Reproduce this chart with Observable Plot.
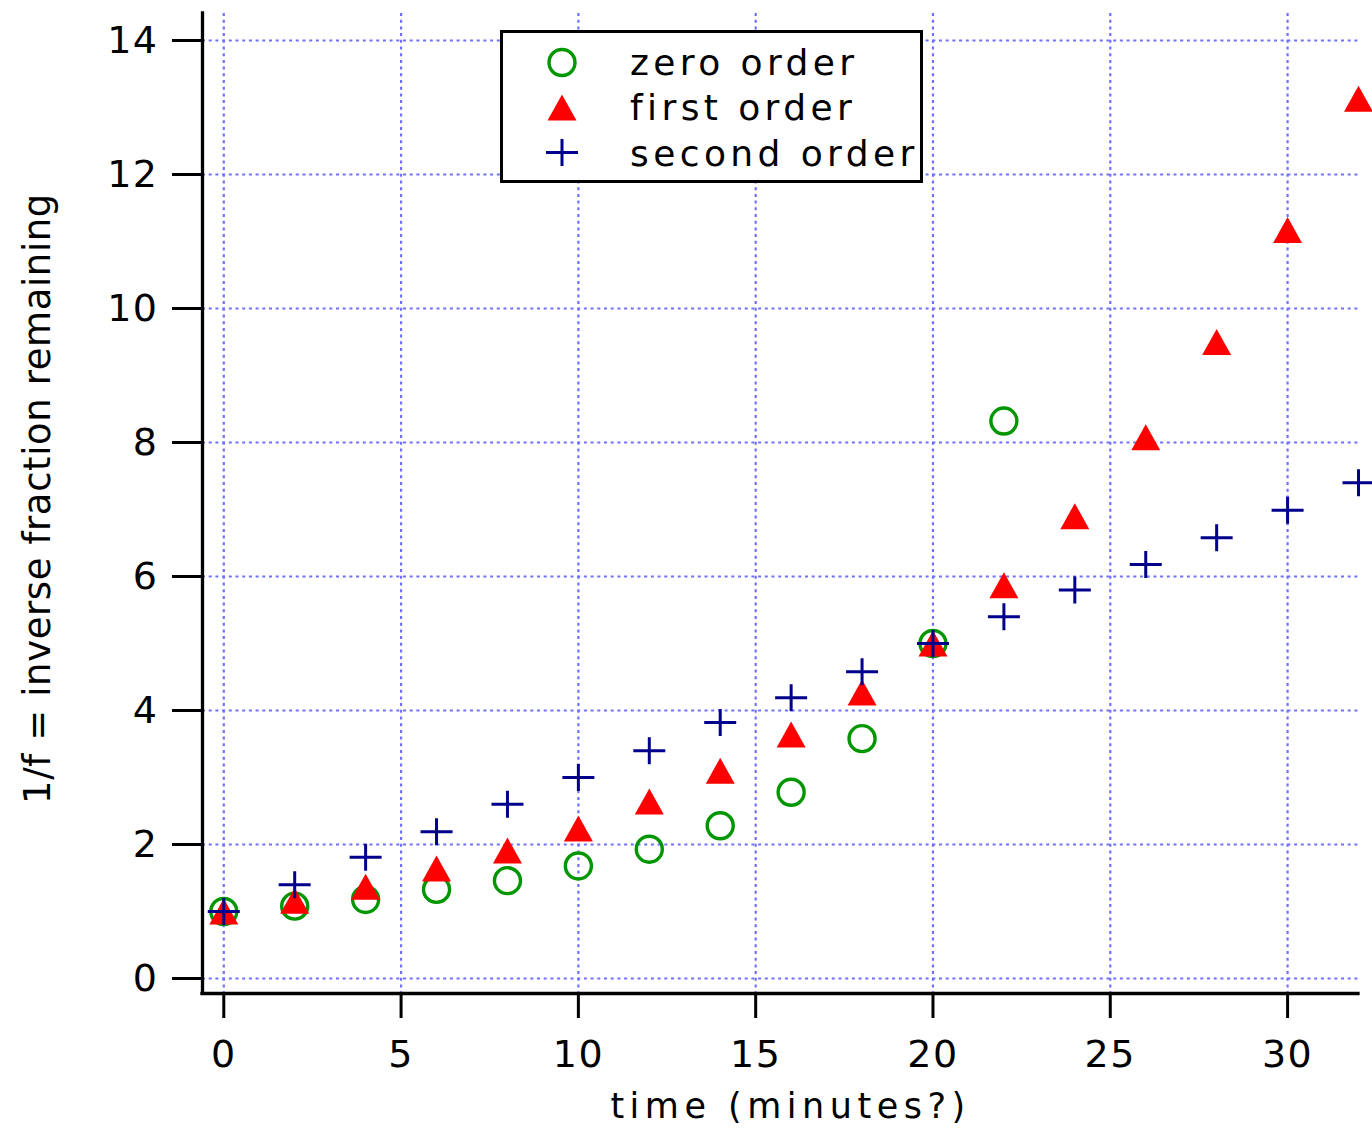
<!DOCTYPE html>
<html>
<head>
<meta charset="utf-8">
<script src="https://cdn.jsdelivr.net/npm/d3@7"></script>
<script src="https://cdn.jsdelivr.net/npm/@observablehq/plot@0.6"></script>
<style>
  body { margin: 0; background: #fff; }
  #wrap { position: relative; width: 1372px; height: 1128px; }
  #legend { position: absolute; left: 500px; top: 30px; width: 417px; height: 147px;
            border: 3px solid #000; background: #fff; }
  #legend svg { display: block; }
  [aria-label="x-axis tick label"], [aria-label="y-axis tick label"] { letter-spacing: 1.5px; }
</style>
</head>
<body>
<div id="wrap"><div id="legend"></div></div>
<script>
// ---- data ----
const times = [0, 2, 4, 6, 8, 10, 12, 14, 16, 18, 20, 22, 24, 26, 28, 30, 32];
const zeroOrder = [1.0, 1.08, 1.18, 1.33, 1.46, 1.68, 1.93, 2.28, 2.78, 3.58, 5.0, 8.32];
const firstOrder = [1.0, 1.16, 1.37, 1.64, 1.91, 2.24, 2.64, 3.1, 3.64, 4.27, 5.0, 5.87, 6.9, 8.08, 9.5, 11.17, 13.13];
const secondOrder = [1.0, 1.4, 1.81, 2.19, 2.6, 3.0, 3.4, 3.82, 4.19, 4.58, 5.0, 5.4, 5.8, 6.18, 6.58, 6.99, 7.4];
const seriesNames = ["zero order", "first order", "second order"];
const xTicks = [0, 5, 10, 15, 20, 25, 30];
const yTicks = [0, 2, 4, 6, 8, 10, 12, 14];
const xDomain = [-0.6, 32];
const yDomain = [-0.224, 14.403];
const xLabel = "time (minutes?)";
const yLabel = "1/f = inverse fraction remaining";

const toRows = (vals) => vals.map((v, i) => ({t: times[i], v}));
const zeroData = toRows(zeroOrder);
const firstData = toRows(firstOrder);
const secondData = toRows(secondOrder);

// ---- styles ----
const green = "#009600", red = "#ff0000", navy = "#00008c", gridBlue = "#7070ff";

const triangleSym = { draw(ctx) { ctx.moveTo(0, -13); ctx.lineTo(14.5, 13); ctx.lineTo(-14.5, 13); ctx.closePath(); } };
const plusSym = { draw(ctx) { ctx.moveTo(-16, 0); ctx.lineTo(16, 0); ctx.moveTo(0, -13.5); ctx.lineTo(0, 13.5); } };

const gridStyle = {stroke: gridBlue, strokeOpacity: 1, strokeWidth: 2.2, strokeDasharray: "3,3.7"};

const chart = Plot.plot({
  width: 1372,
  height: 1128,
  marginLeft: 202,
  marginRight: 14,
  marginTop: 13,
  marginBottom: 135,
  style: {fontFamily: "DejaVu Sans", background: "#fff", color: "#000"},
  x: {domain: xDomain},
  y: {domain: yDomain},
  marks: [
    Plot.gridX(xTicks, gridStyle),
    Plot.gridY(yTicks, gridStyle),
    Plot.axisX({ticks: xTicks, tickSize: 25, tickPadding: 22, strokeWidth: 3, fontSize: 38, label: null}),
    Plot.axisY({ticks: yTicks, tickSize: 30, tickPadding: 14, strokeWidth: 3, fontSize: 38, label: null}),
    Plot.ruleX(xDomain.slice(0, 1), {stroke: "#000", strokeWidth: 3.3, strokeLinecap: "square"}),
    Plot.ruleY(yDomain.slice(0, 1), {stroke: "#000", strokeWidth: 3.3, strokeLinecap: "square"}),
    Plot.dot(zeroData, {x: "t", y: "v", r: 13, stroke: green, strokeWidth: 3.4, fill: "none"}),
    Plot.dot(firstData, {x: "t", y: "v", symbol: triangleSym, fill: red, stroke: "none"}),
    Plot.dot(secondData, {x: "t", y: "v", symbol: plusSym, fill: "none", stroke: navy, strokeWidth: 3}),
    Plot.text([xLabel], {text: d => d, frameAnchor: "bottom", textAnchor: "middle", lineAnchor: "middle",
      dx: 10, dy: 113, fontSize: 35, fill: "#000"}),
    Plot.text([yLabel], {text: d => d, frameAnchor: "left", textAnchor: "middle", lineAnchor: "middle",
      rotate: -90, dx: -164, dy: -5, fontSize: 37, fill: "#000"})
  ]
});
document.getElementById("wrap").prepend(chart);
// letter spacing on axis titles
d3.select(chart).selectAll('g[aria-label="text"] text')
  .style("letter-spacing", (d, i, n) => n[i].textContent === xLabel ? "5.5px" : "0.6px");

// ---- legend ----
const legendColors = [green, red, navy];
const lsvg = d3.select("#legend").append("svg").attr("width", 417).attr("height", 147)
  .style("font-family", "DejaVu Sans");
const rowsY = [29.5, 74.5, 119.5];
const baseY = [42, 87, 133];
const p1 = d3.path(); triangleSym.draw(p1);
const p2 = d3.path(); plusSym.draw(p2);
seriesNames.forEach((name, i) => {
  const g = lsvg.append("g").attr("transform", `translate(59,${rowsY[i]})`);
  if (i === 0) g.append("circle").attr("r", 13).attr("fill", "none").attr("stroke", legendColors[i]).attr("stroke-width", 3.4);
  if (i === 1) g.append("path").attr("d", p1.toString()).attr("fill", legendColors[i]);
  if (i === 2) g.append("path").attr("d", p2.toString()).attr("fill", "none").attr("stroke", legendColors[i]).attr("stroke-width", 3);
  lsvg.append("text").attr("x", 127).attr("y", baseY[i]).attr("font-size", 36)
    .style("letter-spacing", "4.4px").text(name);
});
</script>
</body>
</html>
